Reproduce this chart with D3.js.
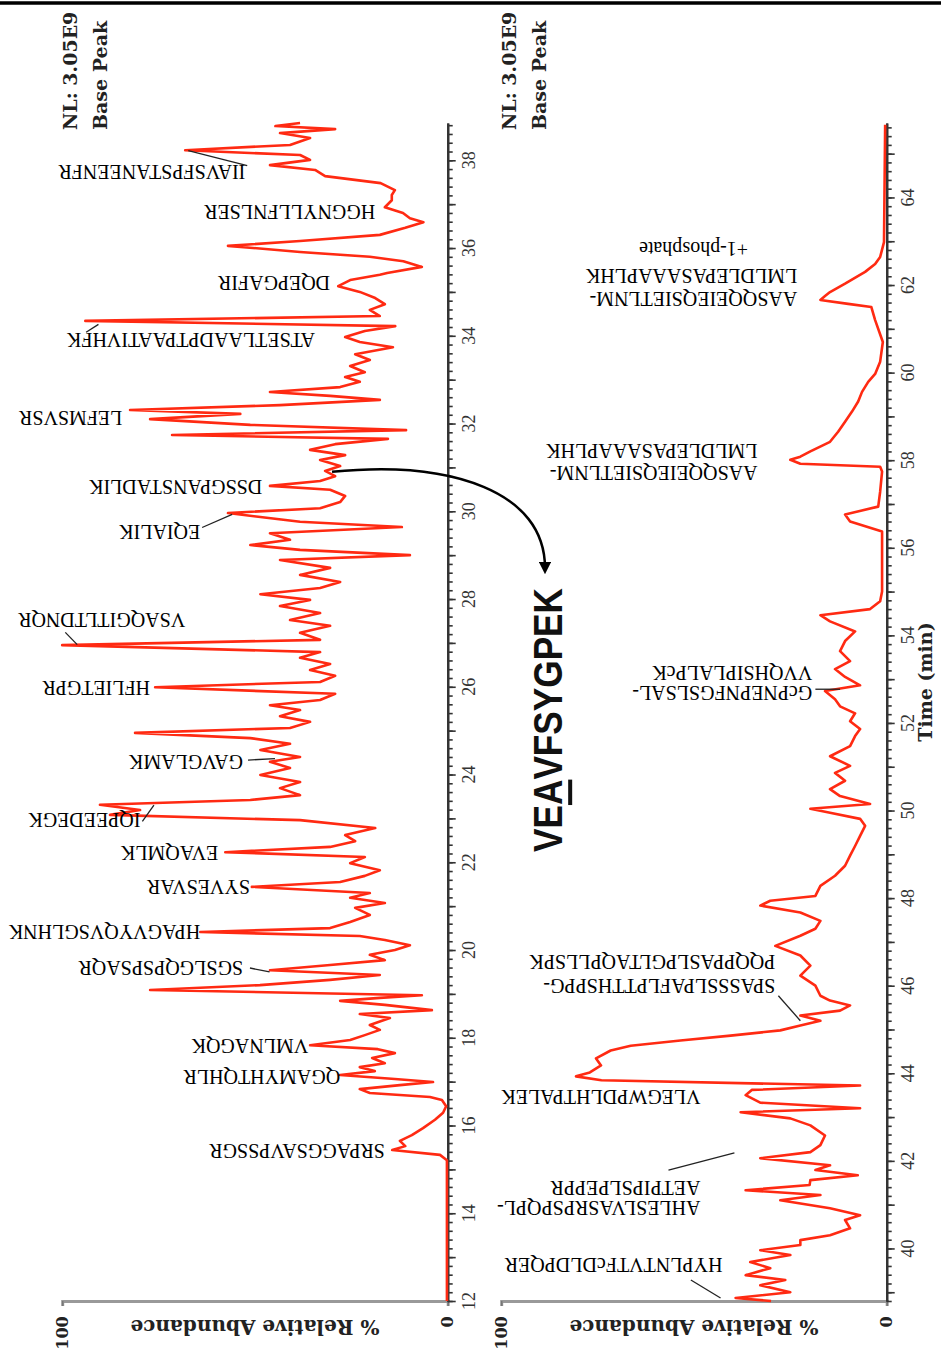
<!DOCTYPE html>
<html><head><meta charset="utf-8">
<script src="https://cdn.jsdelivr.net/npm/d3@7"></script>
<style>body{margin:0;background:#fff} svg{display:block}</style>
</head><body>
<svg id="chart" width="941" height="1352"></svg>
<script>
// Base peak chromatogram, first half: [retention time (min), relative abundance (%)]
const leftTrace = [[12.0,0.2],[15.21,0.2],[15.33,2],[15.44,14.4],[15.53,11],[15.65,12.4],[15.78,9.3],[15.94,6.4],[16.13,3.3],[16.29,1.2],[16.44,0.4],[16.58,1.5],[16.65,4.6],[16.74,20.2],[16.83,22.8],[16.92,12.4],[16.99,3.8],[17.06,13.7],[17.15,27.9],[17.24,18.9],[17.33,22.8],[17.42,16.3],[17.54,19.6],[17.65,13.7],[17.74,18.1],[17.83,35.7],[17.95,25.3],[18.06,21.5],[18.18,17.6],[18.29,20.2],[18.45,15],[18.54,22.8],[18.63,4.1],[18.75,16.3],[18.84,27.9],[18.91,17.6],[18.97,6.7],[19.09,77.2],[19.2,48.7],[19.32,30.5],[19.43,17.6],[19.54,46.1],[19.66,30.5],[19.77,16.3],[19.89,20.2],[20.0,13.7],[20.11,9.8],[20.23,16.3],[20.32,22.8],[20.41,64.2],[20.5,30.5],[20.64,25.3],[20.8,20.2],[20.96,24],[21.07,16.3],[21.19,25.3],[21.3,20.2],[21.44,50.8],[21.55,27.9],[21.69,21.5],[21.82,17.6],[21.98,25.3],[22.12,21.5],[22.23,57.7],[22.35,30.5],[22.48,24],[22.62,26.6],[22.78,18.8],[22.96,38.3],[23.08,87.6],[23.19,79.8],[23.31,90.2],[23.42,51.2],[23.53,38.3],[23.69,43.5],[23.83,38.3],[23.99,48.6],[24.15,40.9],[24.29,46.1],[24.4,38.3],[24.56,48.6],[24.7,40.9],[24.83,51.2],[24.95,81.1],[25.06,40.9],[25.2,35.7],[25.33,43.5],[25.47,38.3],[25.58,46.1],[25.7,33.1],[25.84,29.2],[25.99,75.9],[26.11,33.1],[26.25,29.2],[26.38,35.7],[26.52,30.5],[26.66,38.3],[26.79,33.1],[26.95,100],[27.07,33.1],[27.23,38.3],[27.39,30.5],[27.52,40.9],[27.68,33.1],[27.84,43.5],[27.98,35.7],[28.11,48.6],[28.25,33.1],[28.39,27.9],[28.55,38.3],[28.71,30.5],[28.89,43.5],[29.0,9.8],[29.12,38.3],[29.23,51.2],[29.35,40.9],[29.5,46.1],[29.64,11.9],[29.76,38.3],[29.87,48.6],[29.96,57],[30.07,33.1],[30.21,27.9],[30.35,26.6],[30.49,30.5],[30.58,46.1],[30.69,33.1],[30.8,29.2],[30.92,31.8],[31.03,27.9],[31.17,33.1],[31.28,26.6],[31.4,35.7],[31.53,29.2],[31.65,15.5],[31.74,71.5],[31.85,10.8],[31.97,51.2],[32.1,77.2],[32.22,53.8],[32.31,82.4],[32.42,43.5],[32.54,17.6],[32.63,30.5],[32.72,46.1],[32.83,27.9],[32.95,22.8],[33.06,26.6],[33.17,21.5],[33.31,25.3],[33.45,20.2],[33.58,24],[33.74,14.2],[33.86,22.8],[33.97,26.6],[34.11,21.5],[34.22,13.6],[34.34,94],[34.45,17.6],[34.59,20.2],[34.72,16.3],[34.86,18.8],[35.0,22.8],[35.13,28.4],[35.27,25.3],[35.39,17.6],[35.43,15.7],[35.57,6.7],[35.7,11.5],[35.8,20.2],[35.91,38.3],[36.05,57],[36.16,38.3],[36.3,17.6],[36.46,11],[36.59,6.3],[36.68,9.8],[36.8,11.6],[36.93,16.3],[37.09,14.5],[37.21,14.5],[37.32,13.7],[37.48,17.4],[37.64,31.8],[37.78,34.4],[37.89,46.1],[38.01,35.7],[38.12,38.3],[38.23,68.1],[38.35,40.9],[38.51,35.7],[38.62,43.5],[38.71,29.2],[38.78,44.7],[38.85,38.3]];

// Base peak chromatogram, second half
const rightTrace = [[38.8,30],[38.87,39.2],[39.0,25],[39.16,32.8],[39.28,26.3],[39.39,36.6],[39.55,30.2],[39.69,35.4],[39.85,25],[39.96,32.8],[40.08,22.4],[40.19,22.4],[40.3,14.7],[40.46,9.5],[40.65,10.8],[40.76,6.9],[40.92,14.7],[41.1,27.6],[41.22,17.2],[41.33,36.6],[41.45,20],[41.56,19.8],[41.67,7.5],[41.79,18.5],[41.9,14.7],[42.06,32.8],[42.2,19.8],[42.36,17.2],[42.58,16],[42.81,19.8],[42.97,25],[43.11,37.9],[43.2,6.9],[43.33,32.8],[43.5,36.6],[43.62,35],[43.72,6.9],[43.84,74],[43.93,80.6],[44.02,77],[44.18,74.1],[44.34,75.4],[44.52,71.6],[44.63,66.4],[44.75,53.5],[44.86,40.5],[44.98,27.6],[45.09,22.4],[45.2,17.2],[45.32,22.4],[45.43,12.1],[45.55,9.5],[45.66,14.7],[45.77,17.2],[46.0,18.5],[46.23,22.4],[46.46,19.8],[46.69,22.4],[46.91,28.9],[47.14,22.4],[47.3,18.5],[47.48,17.2],[47.67,22.4],[47.83,32.8],[47.94,30.2],[48.05,18.5],[48.28,17.2],[48.51,13.4],[48.74,10.8],[48.97,9.5],[49.19,8.2],[49.42,6.9],[49.65,5.6],[49.81,6.9],[49.95,14.7],[50.04,19.8],[50.15,4.3],[50.33,12.1],[50.49,14.7],[50.68,10.8],[50.86,13.4],[51.02,9.5],[51.24,14.7],[51.47,9.5],[51.7,8.2],[51.86,6.9],[52.04,9.5],[52.22,8.2],[52.38,12.1],[52.54,13.4],[52.73,16],[52.86,6.9],[53.05,10.8],[53.23,13.4],[53.41,9.5],[53.64,12.1],[53.87,10.8],[54.09,8.2],[54.32,14.7],[54.46,17.2],[54.6,4.3],[54.78,1.7],[55.0,1.2],[55.69,1.2],[56.37,1.2],[56.6,9.5],[56.76,10.8],[56.94,2.2],[57.28,1.7],[57.74,1.2],[57.85,1.7],[57.92,22.4],[58.01,25],[58.08,22.4],[58.2,19.8],[58.42,14.7],[58.65,12.6],[58.88,10.8],[59.11,9],[59.34,7.4],[59.56,6.4],[59.79,4.8],[59.97,3],[60.25,1.7],[60.7,1],[61.2,3],[61.5,4],[61.57,10],[61.66,17.2],[61.75,16],[61.84,14.7],[62.03,10.8],[62.3,5.6],[62.48,3],[62.64,1.7],[62.98,0.7],[65.66,0.4]];

const leftTicks = [12,14,16,18,20,22,24,26,28,30,32,34,36,38];
const rightTicks = [40,42,44,46,48,50,52,54,56,58,60,62,64];

// Peptide annotations: text lines, retention time of each line, abundance at the label's outer end
const leftPeptides = [
  {lines:["SRPAGGSAVPSSGR"], t:[15.42], a:16.3},
  {lines:["QGAMYHTQHLR"], t:[17.11], a:27.9},
  {lines:["VMLNAGQK"], t:[17.81], a:36.2},
  {lines:["SGSLGQPSPSAQR"], t:[19.59], a:53.1},
  {lines:["HPAGVYQVSGLHNK"], t:[20.41], a:64.2},
  {lines:["SYVESVAR"], t:[21.44], a:51.3},
  {lines:["EVAQMLK"], t:[22.21], a:59.5},
  {lines:["IQPEEDEGK"], t:[22.96], a:79.7},
  {lines:["GAVGLAMK"], t:[24.29], a:53.1},
  {lines:["HFLIETGPR"], t:[25.97], a:77.2},
  {lines:["VSAQGITLTDNQR"], t:[27.52], a:68.1},
  {lines:["EQIALIK"], t:[29.53], a:64.2},
  {lines:["DSSGPANSTADLIK"], t:[30.55], a:48.1},
  {lines:["LEFMSVSR"], t:[32.13], a:84.4},
  {lines:["ATSETLAADPTPAATIVHFK"], t:[33.9], a:34.4},
  {lines:["DQEPGAFIR"], t:[35.2], a:30.5},
  {lines:["HGGNYLLFNLSER"], t:[36.82], a:18.8},
  {lines:["IIAVSFPSTANEENFR"], t:[37.73], a:52.5}
];
const rightPeptides = [
  {lines:["HYPLNTVTFcDLDPQER"], t:[39.62], a:42.6},
  {lines:["AHLESLVASRPSPQPL-","AETPIPSLPEPPR"], t:[40.92,41.38], a:48.3},
  {lines:["VLEGWPDLHTPALEK"], t:[43.45], a:48.3},
  {lines:["SPASSSLPAFLPTTHSPPG-","PQQPPASLPGLTAQPLLSPK"], t:[46.0,46.53], a:28.9},
  {lines:["GcPNEPNFGSLSAL-","VVQHSIPLALPcK"], t:[52.68,53.14], a:19.3},
  {lines:["AASQQEIEQSIETLNM-","LMLDLEPASAAAPLHK"], t:[57.7,58.2], a:33.5},
  {lines:["AASQQEIEQSIETLNM-","LMLDLEPASAAAPLHK"], t:[61.68,62.2], a:23.2}
];
// Centred modification note under the last peptide
const rightNotes = [{text:"+1-phosphate", t:62.82, a:50.1}];
// Leader lines [t1, a1, t2, a2]
const leftLeaders = [
  [19.59,51.3,19.5,46.2],
  [22.93,79.2,23.3,76.2],
  [24.33,51.8,24.36,44.8],
  [27.24,99.2,26.96,96.1],
  [29.63,63.7,29.93,55.9],
  [34.08,93.8,34.26,90.6],
  [37.88,52,38.22,67.3]
];
const rightLeaders = [
  [39.28,50.8,38.87,43.1],
  [41.79,56.6,42.18,39.5],
  [45.77,28.1,45.2,22.4],
  [52.77,18.5,52.77,12.1]
];

const svg = d3.select('#chart');
const RED = '#ff2a12';
const serif = '"Liberation Serif", "Times New Roman", serif';
const boldSerif = '"DejaVu Serif", serif';

svg.append('line').attr('x1',0).attr('x2',941).attr('y1',3).attr('y2',3)
  .attr('stroke','#000').attr('stroke-width',3.5);

function panel(opts){
  const {trace, domain, ticks, x0, peptides, leaders, notes} = opts;
  const y = d3.scaleLinear().domain(domain).range([1301,123]);
  const x = d3.scaleLinear().domain([0,100]).range([x0, x0-385.5]);
  const g = svg.append('g');

  // abundance axis (horizontal, grey)
  const ax = g.append('g').attr('transform','translate(0,1301)')
    .call(d3.axisBottom(x).tickValues([0,100]).tickSize(5).tickFormat(''));
  ax.select('.domain').attr('stroke','#999').attr('stroke-width',3);
  ax.selectAll('.tick line').attr('stroke','#777').attr('stroke-width',1.5);
  [0,100].forEach(v=>{
    g.append('text').attr('transform',`translate(${x(v)},${v===0?1322:1333}) rotate(-90)`)
      .attr('text-anchor','middle').attr('dominant-baseline','central')
      .attr('font-family',boldSerif).attr('font-weight','bold').attr('font-size',16)
      .attr('fill','#222').text(v);
  });
  g.append('text').attr('transform',`translate(${x(50)},1327) rotate(180)`)
    .attr('text-anchor','middle').attr('dominant-baseline','central')
    .attr('font-family',boldSerif).attr('font-weight','bold').attr('font-size',20)
    .attr('fill','#222').text('% Relative Abundance');

  // time axis (vertical, ticks to the right)
  const minor = d3.range(Math.ceil(domain[0]*5)/5, domain[1]+1e-6, 0.2);
  const major = d3.range(Math.ceil(domain[0]), domain[1]+1e-6, 1);
  const tMinor = g.append('g').attr('transform',`translate(${x0},0)`)
    .call(d3.axisRight(y).tickValues(minor).tickSize(5).tickFormat('').tickSizeOuter(0));
  const tMajor = g.append('g').attr('transform',`translate(${x0},0)`)
    .call(d3.axisRight(y).tickValues(major).tickSize(8).tickFormat('').tickSizeOuter(0));
  [tMinor,tMajor].forEach(a=>{
    a.select('.domain').attr('stroke','#333').attr('stroke-width',2.2);
    a.selectAll('.tick line').attr('stroke','#333').attr('stroke-width',1.6);
  });
  ticks.forEach(v=>{
    g.append('text').attr('transform',`translate(${x0+21},${y(v)}) rotate(-90)`)
      .attr('text-anchor','middle').attr('dominant-baseline','central')
      .attr('font-family',serif).attr('font-size',18).attr('fill','#333').text(v);
  });

  // trace
  g.append('path').datum(trace)
    .attr('d', d3.line().x(d=>x(d[1])).y(d=>y(d[0])))
    .attr('fill','none').attr('stroke',RED).attr('stroke-width',2.6)
    .attr('stroke-linejoin','round');

  // peptide labels (upside down)
  peptides.forEach(p=>{
    p.lines.forEach((s,i)=>{
      g.append('text').attr('transform',`translate(${x(p.a)},${y(p.t[i])}) rotate(180)`)
        .attr('text-anchor','start').attr('dominant-baseline','central')
        .attr('font-family',serif).attr('font-size',20).attr('fill','#000').text(s);
    });
  });
  (notes||[]).forEach(n=>{
    g.append('text').attr('transform',`translate(${x(n.a)},${y(n.t)}) rotate(180)`)
      .attr('text-anchor','middle').attr('dominant-baseline','central')
      .attr('font-family',serif).attr('font-size',20).attr('fill','#000').text(n.text);
  });
  leaders.forEach(l=>{
    g.append('line').attr('x1',x(l[1])).attr('y1',y(l[0])).attr('x2',x(l[3])).attr('y2',y(l[2]))
      .attr('stroke','#222').attr('stroke-width',1.3);
  });
  return {x,y,g};
}

const L = panel({trace:leftTrace, domain:[12,38.85], ticks:leftTicks, x0:447.7, peptides:leftPeptides, leaders:leftLeaders});
const R = panel({trace:rightTrace, domain:[38.8,65.7], ticks:rightTicks, x0:886.7, peptides:rightPeptides, leaders:rightLeaders, notes:rightNotes});

// instrument annotations
[[70,100],[509,539]].forEach(([c1,c2])=>{
  [['NL: 3.05E9',c1],['Base Peak',c2]].forEach(([s,cx])=>{
    svg.append('text').attr('transform',`translate(${cx},130) rotate(-90)`)
      .attr('text-anchor','start').attr('dominant-baseline','central')
      .attr('font-family',boldSerif).attr('font-weight','bold').attr('font-size',19)
      .attr('fill','#222').text(s);
  });
});

svg.append('text').attr('transform','translate(925,682) rotate(-90)')
  .attr('text-anchor','middle').attr('dominant-baseline','central')
  .attr('font-family',boldSerif).attr('font-weight','bold').attr('font-size',19)
  .attr('fill','#222').text('Time (min)');

// highlighted peptide
const hl = svg.append('text').attr('transform','translate(548,720) rotate(-90) scale(0.88,1)')
  .attr('text-anchor','middle').attr('dominant-baseline','central')
  .attr('font-family','"Liberation Sans",Arial,sans-serif')
  .attr('font-weight','bold').attr('font-size',40).attr('fill','#111');
hl.append('tspan').text('VE');
hl.append('tspan').attr('text-decoration','underline').text('A');
hl.append('tspan').text('VFSYGPEK');

// arrow from the trace at ~30.9 min to the highlighted peptide
const ax0 = L.x(30), ay0 = L.y(30.9);
svg.append('defs').append('marker').attr('id','head').attr('viewBox','0 0 10 10')
  .attr('refX',5).attr('refY',5).attr('markerWidth',5).attr('markerHeight',5).attr('orient','auto')
  .append('path').attr('d','M0,0L10,5L0,10z').attr('fill','#000');
svg.append('path')
  .attr('d', `M${ax0},${ay0} C${ax0+120},${ay0-12} ${545},${ay0+20} ${545},${568}`)
  .attr('fill','none').attr('stroke','#000').attr('stroke-width',2.5).attr('marker-end','url(#head)');
</script>
</body></html>
